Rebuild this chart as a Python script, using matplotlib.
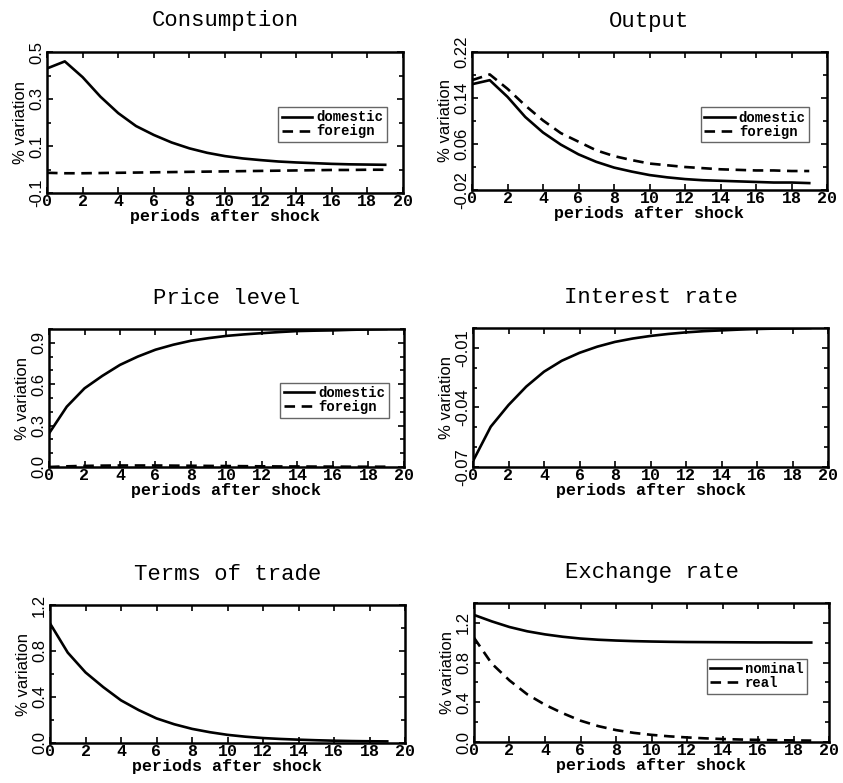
import matplotlib
matplotlib.use("Agg")
import matplotlib.pyplot as plt

# periods after the shock
periods = list(range(20))

# Consumption
cons_domestic = [0.43, 0.46, 0.393, 0.31, 0.24, 0.185, 0.147, 0.115, 0.09, 0.071,
                 0.057, 0.047, 0.04, 0.034, 0.03, 0.027, 0.024, 0.022, 0.021, 0.02]
cons_foreign = [-0.014, -0.016, -0.016, -0.015, -0.014, -0.013, -0.012, -0.011, -0.010, -0.009,
                -0.008, -0.007, -0.006, -0.005, -0.004, -0.003, -0.002, -0.002, -0.001, -0.001]

# Output
out_domestic = [0.164, 0.171, 0.142, 0.107, 0.08, 0.059, 0.042, 0.029, 0.019, 0.012,
                0.006, 0.002, -0.001, -0.003, -0.004, -0.005, -0.006, -0.007, -0.007, -0.008]
out_foreign = [0.171, 0.181, 0.156, 0.127, 0.101, 0.079, 0.064, 0.049, 0.039, 0.032,
               0.026, 0.023, 0.02, 0.018, 0.016, 0.015, 0.014, 0.014, 0.013, 0.013]

# Price level
price_domestic = [0.243, 0.437, 0.57, 0.66, 0.74, 0.80, 0.85, 0.886, 0.915, 0.934,
                  0.95, 0.961, 0.97, 0.978, 0.985, 0.988, 0.99, 0.994, 0.997, 1.0]
price_foreign = [0.0, 0.005, 0.008, 0.01, 0.011, 0.011, 0.011, 0.01, 0.009, 0.008,
                 0.007, 0.006, 0.005, 0.004, 0.004, 0.003, 0.003, 0.002, 0.002, 0.002]

# Interest rate
interest = [-0.067, -0.0497, -0.0388, -0.0295, -0.022, -0.0165, -0.0125, -0.0094, -0.007, -0.0053,
            -0.004, -0.003, -0.0022, -0.0016, -0.0012, -0.0008, -0.0005, -0.0003, -0.0002, 0.0]

# Terms of trade
tot = [1.04, 0.786, 0.614, 0.486, 0.371, 0.286, 0.214, 0.163, 0.123, 0.094,
       0.071, 0.055, 0.043, 0.035, 0.029, 0.024, 0.02, 0.017, 0.015, 0.014]

# Exchange rate
er_nominal = [1.28, 1.215, 1.158, 1.115, 1.084, 1.06, 1.042, 1.03, 1.022, 1.016,
              1.012, 1.009, 1.007, 1.006, 1.005, 1.004, 1.003, 1.003, 1.002, 1.002]
er_real = [1.05, 0.79, 0.62, 0.48, 0.375, 0.29, 0.215, 0.16, 0.12, 0.092,
           0.072, 0.057, 0.046, 0.037, 0.03, 0.025, 0.021, 0.018, 0.016, 0.014]

W, H = 843, 783
mono = "Liberation Mono"
sans = "Liberation Sans"

fig = plt.figure(figsize=(W / 100, H / 100), dpi=100)


def panel(box, title, ylim, yticks, ylabels, yminor, series, labels=None, leg_anchor=None):
    # box is (left, top, right, bottom) in pixels
    l, t, r, b = box
    ax = fig.add_axes([l / W, 1 - b / H, (r - l) / W, (b - t) / H])
    styles = ["-", "--"]
    for i, ys in enumerate(series):
        if styles[i] == "--":
            ax.plot(periods, ys, color="black", lw=1.9, dashes=(4, 2.5), label=labels[i] if labels else None)
        else:
            ax.plot(periods, ys, color="black", lw=1.9, label=labels[i] if labels else None)
    ax.set_xlim(0, 20)
    ax.set_ylim(*ylim)
    ax.set_xticks(range(0, 21, 2))
    ax.set_xticklabels([str(v) for v in range(0, 21, 2)], fontfamily=mono,
                       fontweight="bold", fontsize=12)
    ax.set_yticks(yminor, minor=True)
    ax.set_yticks(yticks)
    ax.set_yticklabels(ylabels, rotation=90, va="center", fontfamily=sans, fontsize=12)
    ax.tick_params(which="both", direction="in", top=True, right=True, width=1.2)
    ax.tick_params(which="major", length=4, pad=2)
    ax.tick_params(which="minor", length=3)
    ax.tick_params(axis="x", pad=1)
    for s in ax.spines.values():
        s.set_linewidth(1.8)
    ax.set_xlabel("periods after shock", fontfamily=mono, fontweight="bold", fontsize=12, labelpad=0)
    ax.set_ylabel("% variation", fontfamily=sans, fontsize=12, labelpad=1)
    ax.text(0.5, 1.22, title, transform=ax.transAxes, ha="center", va="center",
            fontfamily=mono, fontsize=16)
    if labels:
        leg = ax.legend(loc="upper right", bbox_to_anchor=leg_anchor, frameon=True, fancybox=False,
                        prop={"family": mono, "weight": "bold", "size": 10},
                        labelspacing=0.0, handlelength=2.2, handletextpad=0.3,
                        borderpad=0.25, borderaxespad=0)
        leg.get_frame().set_edgecolor("0.25")
        leg.get_frame().set_linewidth(1.0)
    return ax


panel((47, 52, 403, 193), "Consumption", (-0.1, 0.5),
      [-0.1, 0.1, 0.3, 0.5], ["-0.1", "0.1", "0.3", "0.5"],
      [-0.1, 0.0, 0.1, 0.2, 0.3, 0.4, 0.5],
      [cons_domestic, cons_foreign], ["domestic", "foreign"], (0.955, 0.61))

panel((472, 52, 827, 190), "Output", (-0.02, 0.22),
      [-0.02, 0.06, 0.14, 0.22], ["-0.02", "0.06", "0.14", "0.22"],
      [-0.02, 0.02, 0.06, 0.10, 0.14, 0.18, 0.22],
      [out_domestic, out_foreign], ["domestic", "foreign"], (0.95, 0.60))

panel((49, 329, 404, 467), "Price level", (0.0, 1.0),
      [0.0, 0.3, 0.6, 0.9], ["0.0", "0.3", "0.6", "0.9"],
      [0.0, 0.1, 0.2, 0.3, 0.4, 0.5, 0.6, 0.7, 0.8, 0.9, 1.0],
      [price_domestic, price_foreign], ["domestic", "foreign"], (0.958, 0.61))

panel((473, 328, 828, 467), "Interest rate", (-0.07, 0.0),
      [-0.07, -0.04, -0.01], ["-0.07", "-0.04", "-0.01"],
      [-0.07, -0.06, -0.05, -0.04, -0.03, -0.02, -0.01, 0.0],
      [interest])

panel((50, 605, 405, 743), "Terms of trade", (0.0, 1.2),
      [0.0, 0.4, 0.8, 1.2], ["0.0", "0.4", "0.8", "1.2"],
      [0.0, 0.2, 0.4, 0.6, 0.8, 1.0, 1.2],
      [tot])

panel((474, 603, 829, 742), "Exchange rate", (0.0, 1.4),
      [0.0, 0.4, 0.8, 1.2], ["0.0", "0.4", "0.8", "1.2"],
      [0.0, 0.2, 0.4, 0.6, 0.8, 1.0, 1.2, 1.4],
      [er_nominal, er_real], ["nominal", "real"], (0.938, 0.60))

fig.savefig("out.png", dpi=100)
